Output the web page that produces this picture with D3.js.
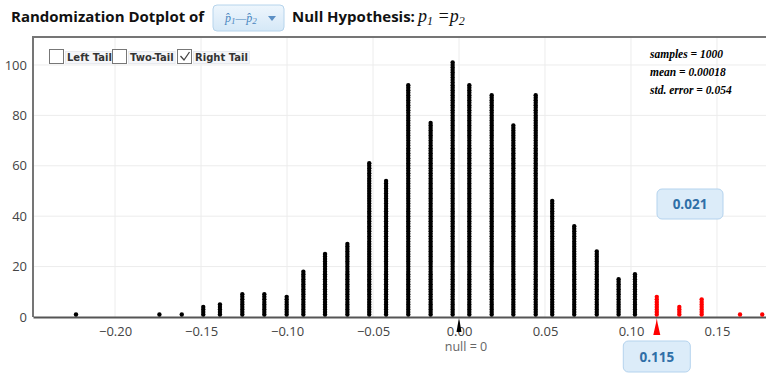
<!DOCTYPE html>
<html>
<head>
<meta charset="utf-8">
<script src="https://cdnjs.cloudflare.com/ajax/libs/d3/7.8.5/d3.min.js"></script>
<style>
  body { margin: 0; background: #fff; }
  svg { display: block; }
</style>
</head>
<body>
<svg id="chart" width="766" height="374"></svg>
<script>

// Data: statistic value of each column and its number of dots
var values = [-0.2227, -0.1742, -0.1612, -0.1487, -0.1390, -0.1260, -0.1132, -0.1002, -0.0905, -0.0779,
  -0.0649, -0.0522, -0.0424, -0.0295, -0.0165, -0.0037, 0.0060, 0.0190, 0.0316, 0.0446,
  0.0542, 0.0670, 0.0801, 0.0928, 0.1023, 0.1150, 0.1281, 0.1411, 0.1634, 0.1763]
var counts = [1, 1, 1, 4, 5, 9, 9, 8, 18, 25,
  29, 61, 54, 92, 77, 101, 92, 88, 76, 88,
  46, 36, 26, 15, 17, 8, 4, 7, 1, 1]

var xTicks = [-0.20, -0.15, -0.10, -0.05, 0.00, 0.05, 0.10, 0.15]
var yTicks = [0, 20, 40, 60, 80, 100]
var tailLabels = ["Left Tail", "Two-Tail", "Right Tail"]
var tailChecked = [false, false, true]
var statLines = ["samples = 1000", "mean = 0.00018", "std. error = 0.054"]
var observed = 0.115
var nullValue = 0
var tailProportion = "0.021"

var svg = d3.select("#chart")

var margin = { left: 33, top: 37, bottom: 317 }

var xscale = d3.scaleLinear().domain([-0.2477, 0.1785]).range([margin.left, 766])
var yscale = d3.scaleLinear().domain([0, d3.max(counts) * 1.1]).range([margin.bottom, margin.top])

// Title line
svg.append("text")
  .attr("x", 11)
  .attr("y", 22)
  .style("font-family", "'Open Sans', sans-serif")
  .style("font-weight", "bold")
  .style("font-size", "15px")
  .attr("fill", "#111")
  .text("Randomization Dotplot of")

// Dropdown with the statistic
var drop = svg.append("g").attr("transform", "translate(213,5)")
var grad = svg.append("defs").append("linearGradient")
  .attr("id", "dropgrad").attr("x1", 0).attr("x2", 0).attr("y1", 0).attr("y2", 1)
grad.append("stop").attr("offset", "0%").attr("stop-color", "#eef6fd")
grad.append("stop").attr("offset", "100%").attr("stop-color", "#d5e8f7")
drop.append("rect")
  .attr("width", 71).attr("height", 26).attr("rx", 4)
  .attr("fill", "url(#dropgrad)").attr("stroke", "#b6d4ec")
var dropText = drop.append("text")
  .attr("x", 12).attr("y", 17)
  .style("font-family", "'Liberation Serif', serif")
  .style("font-style", "italic")
  .style("font-size", "12px")
  .attr("fill", "#4a86c0")
dropText.append("tspan").text("p\u0302")
dropText.append("tspan").attr("font-size", "9px").attr("dy", 2).text("1")
dropText.append("tspan").attr("dy", -2).text("\u2014p\u0302")
dropText.append("tspan").attr("font-size", "9px").attr("dy", 2).text("2")
drop.append("path")
  .attr("d", "M55,11 L63,11 L59,16 Z")
  .attr("fill", "#5b8fc4")

svg.append("text")
  .attr("x", 292)
  .attr("y", 22)
  .style("font-family", "'Open Sans', sans-serif")
  .style("font-weight", "bold")
  .style("font-size", "15px")
  .attr("fill", "#111")
  .text("Null Hypothesis:")

var hyp = svg.append("text")
  .attr("x", 418)
  .attr("y", 22)
  .style("font-family", "'Liberation Serif', serif")
  .style("font-style", "italic")
  .style("font-size", "18px")
  .attr("fill", "#111")
hyp.append("tspan").text("p")
hyp.append("tspan").attr("font-size", "12px").attr("dy", 3).text("1")
hyp.append("tspan").attr("dy", -3).text(" =p")
hyp.append("tspan").attr("font-size", "12px").attr("dy", 3).text("2")

// Grid
var grid = svg.append("g").attr("class", "grid")
grid.selectAll(".vgrid")
  .data(xTicks)
  .enter()
  .append("line")
  .attr("x1", function (d) { return xscale(d) })
  .attr("x2", function (d) { return xscale(d) })
  .attr("y1", margin.top)
  .attr("y2", margin.bottom)
  .attr("stroke", "#ececec")
grid.selectAll(".hgrid")
  .data(yTicks.slice(1))
  .enter()
  .append("line")
  .attr("x1", margin.left)
  .attr("x2", 766)
  .attr("y1", function (d) { return yscale(d) })
  .attr("y2", function (d) { return yscale(d) })
  .attr("stroke", "#ececec")

// Frame: left and top border
svg.append("path")
  .attr("d", "M" + margin.left + "," + margin.bottom + " V" + margin.top + " H766")
  .attr("fill", "none")
  .attr("stroke", "#757575")
  .attr("stroke-width", 2)

// Axes
var xAxis = d3.axisBottom(xscale).tickValues(xTicks).tickFormat(d3.format(".2f")).tickSize(0).tickPadding(10)
var yAxis = d3.axisLeft(yscale).tickValues(yTicks).tickSize(0).tickPadding(6)

var gx = svg.append("g")
  .attr("class", "Xaxis")
  .attr("transform", "translate(0," + margin.bottom + ")")
  .call(xAxis)
gx.select(".domain").attr("stroke", "#555").attr("stroke-width", 2)
gx.selectAll("text")
  .style("font-family", "'Open Sans', sans-serif")
  .style("font-size", "13px")
  .attr("fill", "#444")

var gy = svg.append("g")
  .attr("class", "Yaxis")
  .attr("transform", "translate(" + margin.left + ",0)")
  .call(yAxis)
gy.select(".domain").remove()
gy.selectAll("text")
  .style("font-family", "'Open Sans', sans-serif")
  .style("font-size", "13px")
  .attr("fill", "#444")

// Dots, one circle per sample, stacked into columns
var columns = values.map(function (v, i) { return { value: v, count: counts[i] } })
var dots = []
columns.forEach(function (c) {
  for (var k = 1; k <= c.count; k++) dots.push({ value: c.value, k: k })
})

svg.append("g")
  .attr("class", "dots")
  .selectAll("circle")
  .data(dots)
  .enter()
  .append("circle")
  .attr("cx", function (d) { return xscale(d.value) })
  .attr("cy", function (d) { return yscale(d.k) })
  .attr("r", 2.2)
  .attr("fill", function (d) { return d.value >= observed ? "#ff0000" : "#000" })

// Null marker and observed marker below the axis
var xn = xscale(nullValue)
svg.append("path")
  .attr("d", "M" + xn + "," + (margin.bottom + 1) + " L" + (xn + 0.8) + ",322 L" + (xn + 2.5) + ",332 L" + (xn - 2.5) + ",332 L" + (xn - 0.8) + ",322 Z")
  .attr("fill", "#000")

var xo = xscale(observed)
svg.append("path")
  .attr("d", "M" + xo + "," + (margin.bottom + 1) + " L" + (xo + 0.8) + ",323 L" + (xo + 3.5) + ",335 L" + (xo - 3.5) + ",335 L" + (xo - 0.8) + ",323 Z")
  .attr("fill", "#ff0000")

svg.append("text")
  .attr("x", xn + 7)
  .attr("y", 351)
  .attr("text-anchor", "middle")
  .style("font-family", "'Open Sans', sans-serif")
  .style("font-size", "12.5px")
  .attr("fill", "#666")
  .text("null = " + nullValue)

// Tail checkboxes
var boxX = [50, 113, 178]
var tails = svg.append("g").attr("class", "tails")
tailLabels.forEach(function (lab, i) {
  tails.append("rect")
    .attr("x", boxX[i] - 0.5).attr("y", 49.5)
    .attr("width", 14).attr("height", 14)
    .attr("fill", "#fff").attr("stroke", "#777")
  if (tailChecked[i]) {
    tails.append("path")
      .attr("d", "M" + (boxX[i] + 2.5) + ",56 L" + (boxX[i] + 6) + ",60 L" + (boxX[i] + 11.5) + ",52")
      .attr("fill", "none").attr("stroke", "#444").attr("stroke-width", 1.3)
  }
  var t = tails.append("text")
    .attr("x", boxX[i] + 17)
    .attr("y", 61)
    .style("font-family", "'DejaVu Sans', sans-serif")
    .style("font-weight", "bold")
    .style("font-size", "10px")
    .attr("fill", "#333")
    .text(lab)
  var w = t.node().getComputedTextLength()
  tails.insert("rect", "text")
    .attr("x", boxX[i] + 15.5).attr("y", 51.5)
    .attr("width", w + 3).attr("height", 12)
    .attr("fill", "#f5f6f9").attr("stroke", "#e8eaef")
})

// Summary statistics
svg.append("g")
  .selectAll("text")
  .data(statLines)
  .enter()
  .append("text")
  .attr("x", 650)
  .attr("y", function (d, i) { return 58 + i * 18 })
  .style("font-family", "'Liberation Serif', serif")
  .style("font-style", "italic")
  .style("font-weight", "bold")
  .style("font-size", "11.5px")
  .attr("fill", "#000")
  .text(function (d) { return d })

// Value boxes
function valueBox(cx, cy, w, h, label) {
  var g = svg.append("g")
  g.append("rect")
    .attr("x", cx - w / 2).attr("y", cy - h / 2)
    .attr("width", w).attr("height", h).attr("rx", 5)
    .attr("fill", "#dcecf9").attr("stroke", "#b4d3ee")
  g.append("text")
    .attr("x", cx).attr("y", cy + 5)
    .attr("text-anchor", "middle")
    .style("font-family", "'Open Sans', sans-serif")
    .style("font-weight", "bold")
    .style("font-size", "13.5px")
    .attr("fill", "#2f6fa7")
    .text(label)
}
valueBox(690, 204, 66, 30, tailProportion)
valueBox(xo, 356.5, 67, 31, observed.toFixed(3))

</script>
</body>
</html>
